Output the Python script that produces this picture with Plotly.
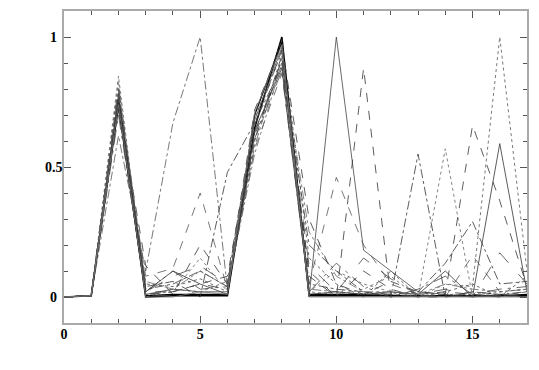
import plotly.graph_objects as go

x = list(range(18))

series = {
    "s1":  [0,0.005,0.75,0.0,0.005,0.005,0.005,0.65,1.0,0.005,0.005,0.005,0.005,0.005,0.005,0.005,0.005,0.005],
    "s2":  [0,0.005,0.73,0.005,0.01,0.01,0.01,0.70,0.98,0.01,0.01,0.01,0.005,0.005,0.005,0.005,0.005,0.01],
    "s3":  [0,0.005,0.62,0.10,0.67,1.0,0.03,0.58,0.92,0.03,0.02,0.01,0.01,0.005,0.01,0.01,0.005,0.02],
    "s4":  [0,0.005,0.78,0.01,0.03,0.02,0.02,0.68,0.96,0.0,1.0,0.18,0.10,0.02,0.01,0.0,0.01,0.0],
    "s5":  [0,0.005,0.80,0.02,0.02,0.05,0.03,0.62,0.90,0.10,0.0,0.88,0.0,0.01,0.02,0.01,0.0,0.01],
    "s6":  [0,0.005,0.77,0.03,0.05,0.10,0.04,0.60,0.93,0.05,0.03,0.02,0.0,0.55,0.0,0.02,0.01,0.02],
    "s7":  [0,0.005,0.85,0.01,0.02,0.15,0.02,0.66,0.95,0.02,0.10,0.05,0.02,0.0,0.57,0.0,0.02,0.03],
    "s8":  [0,0.005,0.74,0.12,0.01,0.20,0.05,0.72,0.97,0.30,0.05,0.01,0.06,0.02,0.01,0.66,0.37,0.04],
    "s9":  [0,0.005,0.76,0.02,0.10,0.05,0.01,0.64,0.88,0.01,0.02,0.01,0.02,0.01,0.10,0.0,0.59,0.02],
    "s10": [0,0.005,0.83,0.0,0.03,0.02,0.06,0.69,0.94,0.02,0.01,0.03,0.08,0.0,0.05,0.04,1.0,0.10],
    "s11": [0,0.005,0.72,0.08,0.11,0.40,0.03,0.57,0.86,0.05,0.46,0.20,0.05,0.01,0.0,0.16,0.02,0.03],
    "s12": [0,0.005,0.79,0.04,0.06,0.0,0.48,0.67,0.89,0.20,0.10,0.02,0.01,0.02,0.13,0.29,0.05,0.06],
    "s13": [0,0.005,0.81,0.02,0.08,0.12,0.05,0.63,0.91,0.12,0.02,0.15,0.07,0.01,0.03,0.0,0.17,0.05],
    "s14": [0,0.005,0.75,0.05,0.04,0.07,0.02,0.70,0.99,0.15,0.05,0.0,0.10,0.0,0.02,0.05,0.0,0.08],
    "s15": [0,0.005,0.70,0.02,0.10,0.03,0.04,0.61,0.87,0.02,0.13,0.04,0.0,0.03,0.08,0.01,0.03,0.04],
    "s16": [0,0.005,0.77,0.01,0.02,0.05,0.08,0.66,0.95,0.08,0.0,0.10,0.03,0.0,0.0,0.02,0.01,0.0],
    "s17": [0,0.005,0.80,0.06,0.03,0.10,0.04,0.55,0.90,0.25,0.08,0.02,0.02,0.01,0.05,0.03,0.02,0.03],
    "s18": [0,0.005,0.74,0.0,0.0,0.02,0.01,0.71,0.97,0.0,0.0,0.0,0.0,0.0,0.0,0.0,0.0,0.0],
}

y_tick_vals = [0, 0.5, 1]
y_tick_text = ["0", "0.5", "1"]

styles = [
    ("black", 1.6, "solid"), ("black", 1.2, "solid"), ("#555", 0.8, "dashdot"),
    ("#444", 0.8, "solid"), ("#333", 0.8, "dash"), ("#333", 0.8, "dashdot"),
    ("#666", 0.8, "dot"), ("#333", 0.8, "dash"), ("#333", 0.8, "solid"),
    ("#555", 0.8, "dot"), ("#555", 0.8, "dash"), ("#333", 0.8, "dashdot"),
    ("#444", 0.8, "longdash"), ("#444", 0.8, "dot"), ("#444", 0.8, "longdashdot"),
    ("#333", 0.8, "dash"), ("#666", 0.8, "dashdot"), ("#777", 0.8, "solid"),
]

fig = go.Figure()
for (name, ys), (c, w, d) in zip(series.items(), styles):
    fig.add_trace(go.Scatter(x=x, y=ys, mode="lines", name=name,
                             line=dict(color=c, width=w, dash=d)))

font = dict(family="Liberation Serif", size=14, color="black", weight="bold")
axis_common = dict(showline=True, linecolor="#aaaaaa", linewidth=2, mirror="ticks",
                   ticks="inside", tickcolor="#555", tickwidth=1, ticklen=7,
                   showgrid=False, zeroline=False, tickfont=font)

fig.update_xaxes(range=[0, 17], dtick=5, tick0=0, ticklabelstandoff=-3,
                 minor=dict(dtick=1, ticks="inside", ticklen=4, tickcolor="#555"),
                 **axis_common)
fig.update_yaxes(range=[-0.1, 1.1], tickvals=y_tick_vals, showticklabels=False,
                 minor=dict(dtick=0.1, tick0=0, ticks="inside", ticklen=4, tickcolor="#555"),
                 **axis_common)

for v, t in zip(y_tick_vals, y_tick_text):
    fig.add_annotation(x=-0.022, xref="paper", y=v, yref="y", text=t, showarrow=False,
                       xanchor="center", yanchor="middle", font=font)

fig.update_layout(width=539, height=370, margin=dict(l=64, r=12, t=9, b=47),
                  paper_bgcolor="white", plot_bgcolor="white", showlegend=False)

fig.write_html("out.html")
